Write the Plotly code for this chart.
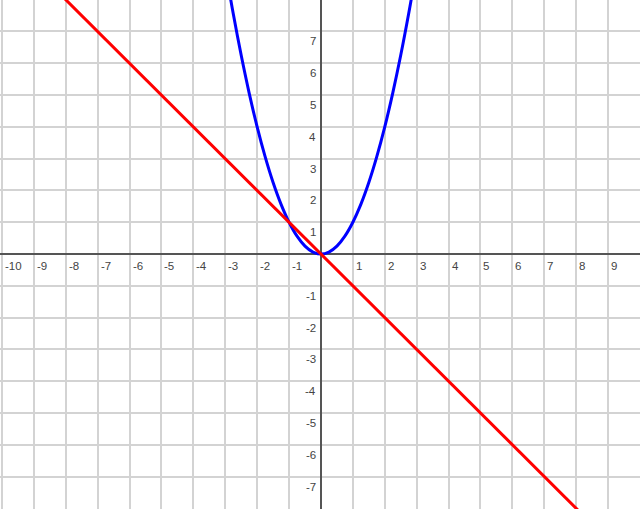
import plotly.graph_objects as go

# parabola points (y = x^2 shape)
parab_x = [-3, -2.75, -2.5, -2.25, -2, -1.75, -1.5, -1.25, -1, -0.75, -0.5, -0.25, 0,
           0.25, 0.5, 0.75, 1, 1.25, 1.5, 1.75, 2, 2.25, 2.5, 2.75, 3]
parab_y = [9, 7.5625, 6.25, 5.0625, 4, 3.0625, 2.25, 1.5625, 1, 0.5625, 0.25, 0.0625, 0,
           0.0625, 0.25, 0.5625, 1, 1.5625, 2.25, 3.0625, 4, 5.0625, 6.25, 7.5625, 9]

# straight line y = -x
line_x = [-8.5, 8.5]
line_y = [8.5, -8.5]

x_ticks = [-10, -9, -8, -7, -6, -5, -4, -3, -2, -1, 1, 2, 3, 4, 5, 6, 7, 8, 9]
y_ticks = [7, 6, 5, 4, 3, 2, 1, -1, -2, -3, -4, -5, -6, -7]

fig = go.Figure()
fig.add_trace(go.Scatter(x=parab_x, y=parab_y, mode='lines', line=dict(color='#0000ff', width=3, shape='spline')))
fig.add_trace(go.Scatter(x=line_x, y=line_y, mode='lines', line=dict(color='#ff0000', width=3)))

font = dict(family='Liberation Sans, Arial', size=11.5, color='#444444')
annotations = []
for t in x_ticks:
    annotations.append(dict(x=t, y=0, xref='x', yref='y', text=str(t), showarrow=False,
                            xanchor='left', yanchor='top', xshift=1, yshift=-4, font=font))
for t in y_ticks:
    annotations.append(dict(x=0, y=t, xref='x', yref='y', text=str(t), showarrow=False,
                            xanchor='right', yanchor='top', xshift=-3, yshift=-2, font=font))

axis_common = dict(dtick=1, tick0=0, showgrid=True, gridcolor='#d3d3d3', gridwidth=1.5,
                   zeroline=True, zerolinecolor='#555555', zerolinewidth=1.5,
                   showticklabels=False, ticks='', showline=False, fixedrange=True)

fig.update_layout(
    width=640, height=509,
    margin=dict(l=0, r=0, t=0, b=0),
    showlegend=False,
    plot_bgcolor='white', paper_bgcolor='white',
    xaxis=dict(range=[-10.06, 10.0], **axis_common),
    yaxis=dict(range=[-8.02, 7.99], **axis_common),
    annotations=annotations,
)

fig.write_html("out.html", config={'displayModeBar': False},
               post_script="document.body.style.margin='0';document.body.style.overflow='hidden';")
